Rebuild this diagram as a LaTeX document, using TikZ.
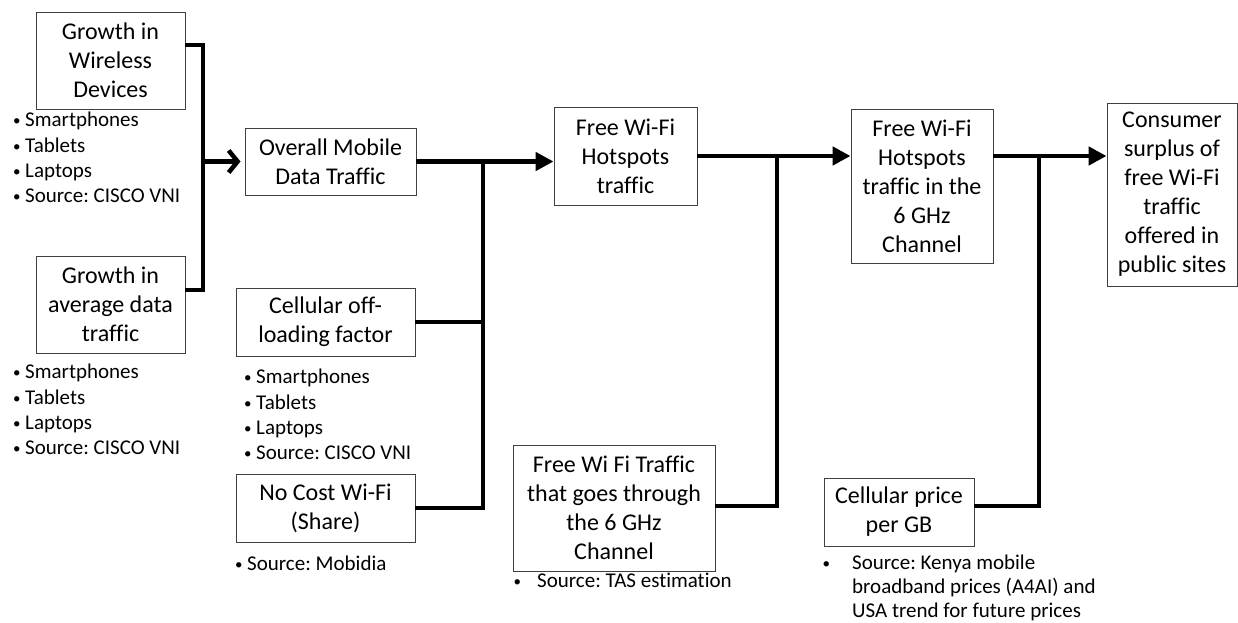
\documentclass[tikz,border=0pt]{standalone}
\usepackage{fontspec}
\setmainfont{Carlito}[Ligatures=NoCommon]
\frenchspacing
\usetikzlibrary{arrows.meta,calc}
\newcommand{\bul}{\makebox[12pt][l]{\raisebox{1pt}{\fontsize{15}{15}\selectfont\textbullet}}}
\tikzset{
    box/.style={draw=black!75,line width=0.9pt,inner sep=0pt,align=center,font=\fontsize{24}{29}\selectfont},
    notes/.style={anchor=north west,inner sep=0pt,align=left,font=\fontsize{21}{25.4}\selectfont},
    bus/.style={line width=4.5pt},
    feed/.style={bus,-{Triangle[length=18pt,width=18pt]}},
  }

\begin{document}
\begin{tikzpicture}[x=1pt,y=-1pt]
				  \useasboundingbox (0,0) rectangle (1238,623);
				  %boites
				  \node[box,minimum width=149pt,minimum height=97pt] (g1) at (110.5,60.5) {Growth in\\Wireless\\Devices};
				  \node[box,minimum width=149pt,minimum height=97pt] (g2) at (110.5,304.5) {Growth in\\average data\\traffic};
				  \node[box,minimum width=171pt,minimum height=67pt] (om) at (330.5,161.5) {Overall Mobile\\Data Traffic};
				  \node[box,minimum width=179pt,minimum height=68pt] (co) at (325.5,322) {Cellular off-\\loading factor};
				  \node[box,minimum width=179pt,minimum height=68pt] (nc) at (325.5,508) {No Cost Wi-Fi\\(Share)};
				  \node[box,minimum width=143pt,minimum height=98pt] (fh) at (625.5,156) {Free Wi-Fi\\Hotspots\\traffic};
				  \node[box,minimum width=202pt,minimum height=126pt] (ft) at (614,508) {Free Wi Fi Traffic\\that goes through\\the 6 GHz\\Channel};
				  \node[box,minimum width=142pt,minimum height=154pt] (fh6) at (922,186) {Free Wi-Fi\\Hotspots\\traffic in the\\6 GHz\\Channel};
				  \node[box,minimum width=150pt,minimum height=68pt] (cp) at (899,512) {Cellular price\\per GB};
				  \node[box,minimum width=130pt,minimum height=183pt] (cs) at (1172,194.5) {Consumer\\surplus of\\free Wi-Fi\\traffic\\offered in\\public sites};
				  %sources
				  \node[notes] (n1) at (13,112) {\bul Smartphones\\\bul Tablets\\\bul Laptops\\\bul Source: CISCO VNI};
				  \node[notes] (n2) at (13,364) {\bul Smartphones\\\bul Tablets\\\bul Laptops\\\bul Source: CISCO VNI};
				  \node[notes] (n3) at (244,369) {\bul Smartphones\\\bul Tablets\\\bul Laptops\\\bul Source: CISCO VNI};
				  \node[notes] (n4) at (235,556) {\bul Source: Mobidia};
				  \node[notes] (n5) at (513.5,573) {\bul\hspace{11.5pt}Source: TAS estimation};
				  \node[notes,font=\fontsize{21}{24}\selectfont] (n6) at (822.5,552) {\begin{tabular}{@{}l@{\hspace{17.5pt}}l@{}}\bul & Source: Kenya mobile\\ & broadband prices (A4AI) and\\ & USA trend for future prices\end{tabular}};
				  %jonctions
				  \coordinate (j1) at (203,161.5);
				  \coordinate (b1) at (483,161.5);
				  \coordinate (b2) at (777,156);
				  \coordinate (b3) at (1039,156);
				  \draw[bus] ([yshift=15.5pt]g1.east) -| (j1) |- ([yshift=14.5pt]g2.east);
				  \draw[bus,-{Straight Barb[length=9pt,width=22pt]},shorten >=4pt] (j1) -- (om.west);
				  \draw[feed] (om.east) -- (om.east -| fh.west);
				  \draw[bus] (b1) |- (nc.east);
				  \draw[bus] (co.east) -- (co.east -| b1);
				  \draw[feed] (fh.east) -- (fh.east -| fh6.west);
				  \draw[bus] (b2) |- ([yshift=2pt]ft.east);
				  \draw[feed] (fh.east -| fh6.east) -- (fh.east -| cs.west);
				  \draw[bus] (b3) |- ([yshift=6pt]cp.east);
				  \end{tikzpicture}
\end{document}
